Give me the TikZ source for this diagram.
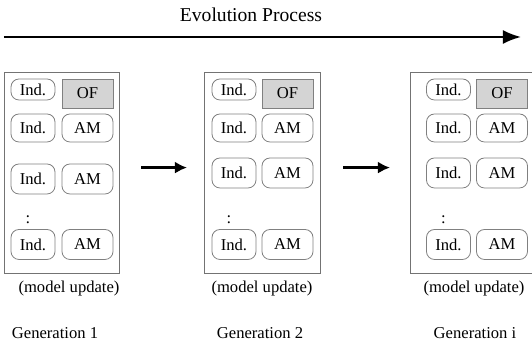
\documentclass[tikz,border=0pt]{standalone}
\usepackage{fontspec}
\setmainfont{Liberation Serif}
\usetikzlibrary{arrows.meta}

\begin{document}
\begin{tikzpicture}[x=0.5pt, y=-0.5pt,
    every node/.style={inner sep=0pt, font=\fontsize{8.3}{10}\selectfont},
    genbox/.style={draw=black!55, line width=0.6pt, minimum height=100.5pt, anchor=north west},
    indbox/.style={draw=black!50, rounded corners=4pt, minimum width=22pt, minimum height=14pt},
    ambox/.style={indbox, minimum width=25.5pt},
    ofbox/.style={draw=black!50, fill=black!17, minimum width=25.5pt, minimum height=14.5pt},
    timeline/.style={line width=1.1pt, -{Latex[length=9pt,width=7pt]}},
    genarrow/.style={line width=1.6pt, -{Latex[length=6pt,width=6pt]}}
  ]
  \useasboundingbox (0,0) rectangle (532,340);

  % time axis
  \node[font=\fontsize{9.8}{12}\selectfont, anchor=base] (title) at (251,22) {Evolution Process};
  \coordinate (tl-start) at (4,37);
  \coordinate (tl-end) at (521,37);
  \draw[timeline] (tl-start) -- (tl-end);

  % one population per generation
  \foreach \g/\bx/\bw/\ix/\ax/\ry/\mx/\gx in {1/4/115/33/87.5/179/69/55,
      2/204/116/234/287.5/173/262/260, i/410/124/448.5/502/173/474/475} {
    \node[genbox, minimum width=\bw*0.5pt] (g\g) at (\bx,72) {};
    \node[indbox, minimum height=10.5pt] (g\g-ind1) at (\ix,89.5) {Ind.};
    \node[ofbox] (g\g-of) at (\ax,93.5) {OF};
    \node[indbox] (g\g-ind2) at (\ix,128) {Ind.};
    \node[ambox] (g\g-am2) at (\ax,128) {AM};
    \node[indbox, minimum height=15pt] (g\g-ind3) at (\ix,\ry) {Ind.};
    \node[ambox, minimum height=15pt] (g\g-am3) at (\ax,\ry) {AM};
    \node (g\g-dots) at (\ix-5,220) {:};
    \node[indbox, minimum height=15pt] (g\g-ind4) at (\ix,244.5) {Ind.};
    \node[ambox, minimum height=15pt] (g\g-am4) at (\ax,244.5) {AM};
    \node[anchor=base] (g\g-upd) at (\mx,293) {(model update)};
    \node[anchor=base] (g\g-name) at (\gx,339) {Generation \g};
  }

  \draw[genarrow, shorten <=10.5pt, shorten >=8.5pt] ([yshift=2.75pt]g1.east) -- ([yshift=2.75pt]g2.west);
  \draw[genarrow, shorten <=11pt, shorten >=10pt] ([yshift=2.75pt]g2.east) -- ([yshift=2.75pt]gi.west);
\end{tikzpicture}
\end{document}
